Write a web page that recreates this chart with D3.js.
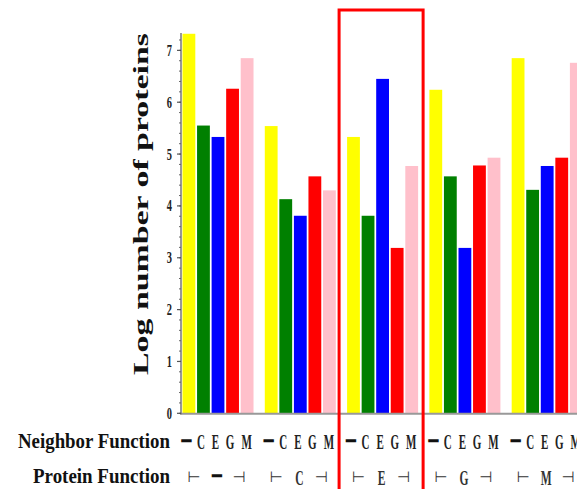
<!DOCTYPE html>
<html><head><meta charset="utf-8">
<script src="https://cdn.jsdelivr.net/npm/d3@7"></script>
<style>html,body{margin:0;padding:0;background:#fff;overflow:hidden}</style>
</head><body>
<svg id="c" width="577" height="489"></svg>
<script>
// Protein function groups (x axis) and neighbor function series
const proteinFunctions = ["−", "C", "E", "G", "M"];
const neighborFunctions = ["−", "C", "E", "G", "M"];
const seriesColors = ["#ffff00", "#008000", "#0000ff", "#ff0000", "#ffc0cb"];
// values[seriesIndex][groupIndex] : log number of proteins
const valuesNone = [7.32, 5.54, 5.33, 6.24, 6.85];
const valuesC    = [5.55, 4.13, 3.81, 4.57, 4.31];
const valuesE    = [5.33, 3.81, 6.45, 3.19, 4.77];
const valuesG    = [6.26, 4.57, 3.19, 4.78, 4.93];
const valuesM    = [6.85, 4.30, 4.77, 4.93, 6.76];
const seriesValues = [valuesNone, valuesC, valuesE, valuesG, valuesM];
const yTicks = [0, 1, 2, 3, 4, 5, 6, 7];
const highlighted = "E";

const svg = d3.select("#c");
const serif = "'Liberation Serif','Times New Roman','DejaVu Serif',serif";

const x0 = d3.scaleBand().domain(proteinFunctions).range([182.5, 582.7]).paddingInner(0.137).paddingOuter(0);
const x1 = d3.scaleBand().domain(d3.range(neighborFunctions.length)).range([0, x0.bandwidth()]).paddingInner(0.12).paddingOuter(0);
const y = d3.scaleLinear().domain([0, 7.335]).range([413.3, 33]);

// bars
const g = svg.append("g");
proteinFunctions.forEach((pf, gi) => {
  neighborFunctions.forEach((nf, si) => {
    const v = seriesValues[si][gi];
    g.append("rect")
      .attr("x", x0(pf) + x1(si))
      .attr("y", y(v))
      .attr("width", x1.bandwidth())
      .attr("height", y(0) - y(v))
      .attr("fill", seriesColors[si]);
  });
});

// baseline
svg.append("line").attr("x1", 180).attr("x2", 577).attr("y1", y(0)+0.5).attr("y2", y(0)+0.5)
  .attr("stroke", "#999").attr("stroke-width", 2);

// y axis
const yAxis = svg.append("g").attr("transform", "translate(181,0)");
yAxis.append("line").attr("x1", 0).attr("x2", 0).attr("y1", y(0)+1).attr("y2", y.range()[1])
  .attr("stroke", "#777").attr("stroke-width", 1.5);
const minor = d3.range(0, 7.3, 0.2);
yAxis.selectAll(".mt").data(minor).join("line")
  .attr("x1", -2).attr("x2", 0).attr("y1", d => y(d)).attr("y2", d => y(d))
  .attr("stroke", "#666").attr("stroke-width", 1);
yAxis.selectAll(".Mt").data(yTicks).join("line")
  .attr("x1", -4).attr("x2", 0).attr("y1", d => y(d)).attr("y2", d => y(d))
  .attr("stroke", "#555").attr("stroke-width", 1.2);
yAxis.selectAll(".tl").data(yTicks).join("text")
  .attr("transform", d => `translate(-9,${y(d)+5.5}) scale(0.65,1)`)
  .attr("text-anchor", "end")
  .attr("font-family", serif).attr("font-weight", "bold").attr("font-size", 16)
  .attr("fill", "#222").text(d => d);

// y title
svg.append("text")
  .attr("transform", "translate(148,204) rotate(-90)")
  .attr("text-anchor", "middle")
  .attr("font-family", serif).attr("font-weight", "bold").attr("font-size", 22)
  .attr("textLength", 342).attr("lengthAdjust", "spacingAndGlyphs")
  .attr("fill", "#111").text("Log number of proteins");

// row labels
svg.append("text").attr("x", 18).attr("y", 448)
  .attr("font-family", serif).attr("font-weight", "bold").attr("font-size", 20)
  .attr("textLength", 152).attr("lengthAdjust", "spacingAndGlyphs")
  .attr("fill", "#111").text("Neighbor Function");
svg.append("text").attr("x", 33).attr("y", 483)
  .attr("font-family", serif).attr("font-weight", "bold").attr("font-size", 20)
  .attr("textLength", 137).attr("lengthAdjust", "spacingAndGlyphs")
  .attr("fill", "#111").text("Protein Function");

// neighbor function letters under each bar
proteinFunctions.forEach((pf) => {
  neighborFunctions.forEach((nf, si) => {
    const cx = x0(pf) + x1(si) + x1.bandwidth()/2 - (si === 4 ? 0.5 : 2.5);
    const isDash = nf === "−";
    svg.append("text")
      .attr("transform", `translate(${cx},${isDash ? 447 : 449}) scale(${isDash ? 1 : 0.55},1)`)
      .attr("text-anchor", "middle")
      .attr("font-family", serif).attr("font-weight", "bold").attr("font-size", isDash ? 19 : 20)
      .attr("fill", "#222")
      .attr("stroke", isDash ? "#111" : "none").attr("stroke-width", isDash ? 1.6 : 0)
      .text(nf);
  });
  // protein function bracket
  const gs = x0(pf), ge = x0(pf) + x0.bandwidth();
  const mid = x0(pf) + x1(2) + x1.bandwidth()/2 - 1;
  const isDash = pf === "−";
  svg.append("text").attr("x", gs + 5).attr("y", 482)
    .attr("font-family", "'DejaVu Sans',sans-serif").attr("font-size", 15).attr("fill", "#333")
    .text("⊢");
  svg.append("text")
    .attr("transform", `translate(${mid},${isDash ? 482 : 485}) scale(${isDash ? 1 : 0.55},1)`)
    .attr("text-anchor", "middle")
    .attr("font-family", serif).attr("font-weight", "bold").attr("font-size", isDash ? 19 : 21)
    .attr("fill", "#333")
    .attr("stroke", isDash ? "#111" : "none").attr("stroke-width", isDash ? 1.6 : 0)
    .text(pf);
  svg.append("text").attr("x", ge - 8).attr("y", 482).attr("text-anchor", "end")
    .attr("font-family", "'DejaVu Sans',sans-serif").attr("font-size", 15).attr("fill", "#333")
    .text("⊣");
});

// highlight box around the E group
const hs = x0(highlighted) - 8, he = x0(highlighted) + x0.bandwidth() + 5;
svg.append("path")
  .attr("d", `M${hs},495 L${hs},10 L${he},10 L${he},495`)
  .attr("fill", "none").attr("stroke", "#ff0000").attr("stroke-width", 3);
</script>
</body></html>
